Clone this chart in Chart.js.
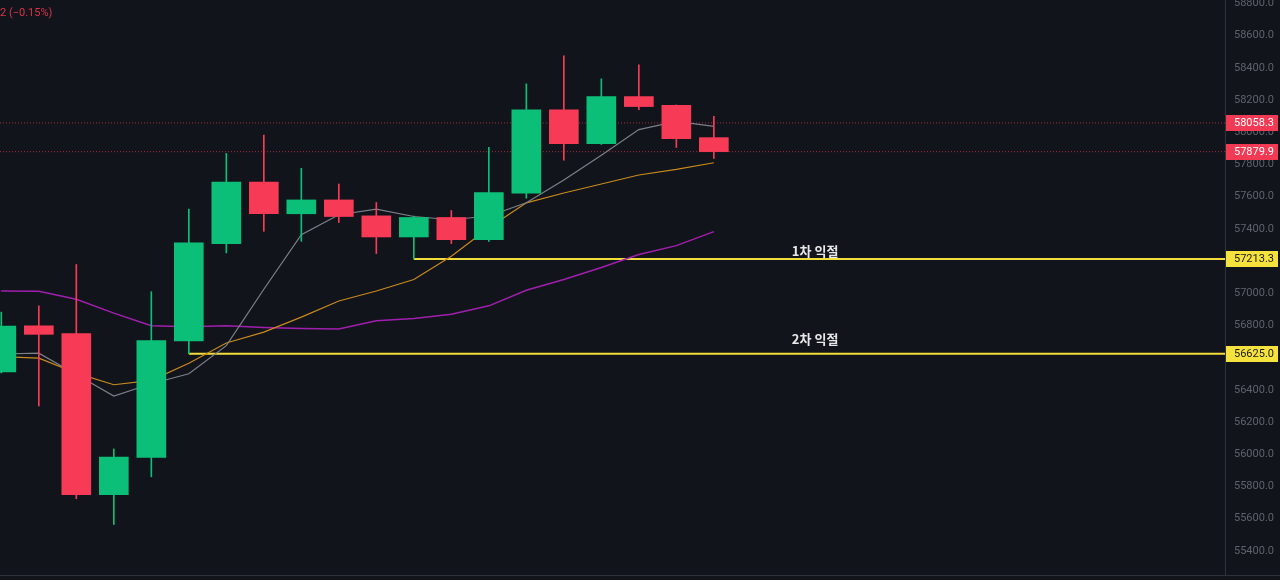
<!DOCTYPE html>
<html>
<head>
<meta charset="utf-8">
<script src="https://cdn.jsdelivr.net/npm/chart.js@4/dist/chart.umd.min.js"></script>
<style>
  html, body { margin: 0; padding: 0; background: #12141b; }
  #wrap { width: 1280px; height: 580px; position: relative; }
</style>
</head>
<body>
<div id="wrap"><canvas id="c" width="1280" height="580"></canvas></div>
<script>
// ---- data ----
const opens  = [56512, 56798, 56749, 55749, 55980, 56704, 57309, 57691, 57494, 57580, 57481, 57350, 57471, 57333, 57622, 58140, 57930, 58222, 58167, 57967];
const closes = [56796, 56745, 55749, 55983, 56706, 57313, 57691, 57494, 57580, 57477, 57350, 57471, 57333, 57625, 58140, 57930, 58222, 58160, 57961, 57880];
const highs  = [56883, 56922, 57179, 56033, 57010, 57523, 57869, 57983, 57776, 57679, 57564, 57480, 57514, 57906, 58301, 58475, 58332, 58420, 58170, 58099];
const lows   = [56505, 56300, 55724, 55564, 55860, 56625, 57251, 57385, 57323, 57440, 57247, 57213, 57309, 57323, 57591, 57827, 57925, 58140, 57906, 57838];
const maFast = [56623, 56628, 56496, 56362, 56438, 56500, 56675, 57025, 57364, 57488, 57523, 57477, 57457, 57480, 57562, 57704, 57858, 58017, 58068, 58037];
const maMid  = [56607, 56597, 56504, 56432, 56459, 56565, 56691, 56759, 56852, 56952, 57014, 57086, 57230, 57407, 57562, 57623, 57679, 57735, 57770, 57811];
const maSlow = [57014, 57012, 56963, 56877, 56798, 56792, 56798, 56788, 56782, 56778, 56829, 56844, 56870, 56922, 57019, 57086, 57160, 57241, 57296, 57383];
const yTicks = [55400, 55600, 55800, 56000, 56200, 56400, 56600, 56800, 57000, 57200, 57400, 57600, 57800, 58000, 58200, 58400, 58600, 58800];
const redLevels = [58058.3, 57879.9];
const targetLevels = [57213.3, 56625.0];
const targetStart = [11, 5];
const targetNames = ['1차 익절', '2차 익절'];
const headerText = '2 (−0.15%)';

const X_MIN = -0.035, X_MAX = 32.63;
const Y_MIN = 55250, Y_MAX = 58822;
const UP = '#0cbf78', DOWN = '#f73b57';

const idx = opens.map((_, i) => i);
const candleColor = i => closes[i] >= opens[i] ? UP : DOWN;

const datasets = [];
datasets.push({
  type: 'bar', label: 'body', order: 0, grouped: false,
  data: idx.map(i => ({ x: i, y: [opens[i], closes[i]] })),
  backgroundColor: idx.map(candleColor), borderWidth: 0, barThickness: 29
});
datasets.push({
  type: 'bar', label: 'wick', order: 1, grouped: false,
  data: idx.map(i => ({ x: i, y: [lows[i], highs[i]] })),
  backgroundColor: idx.map(candleColor), borderWidth: 0, barThickness: 1
});
const lineDs = (label, arr, color, w, order) => ({
  type: 'line', label, order, data: arr.map((v, i) => ({ x: i, y: v })),
  borderColor: color, borderWidth: w, pointRadius: 0, tension: 0, fill: false
});
datasets.push(lineDs('ma1', maFast, '#7d8089', 1.2, 2));
datasets.push(lineDs('ma2', maMid, '#c88a1e', 1.2, 2));
datasets.push(lineDs('ma3', maSlow, '#a11fae', 1.5, 2));
redLevels.forEach((v, k) => datasets.push({
  type: 'line', label: 'red' + k, order: 3,
  data: [{ x: X_MIN, y: v }, { x: X_MAX, y: v }],
  borderColor: 'rgba(242,54,69,0.65)', borderWidth: 1, borderDash: [1, 2], pointRadius: 0
}));
targetLevels.forEach((v, k) => datasets.push({
  type: 'line', label: 'tgt' + k, order: 2,
  data: [{ x: targetStart[k], y: v }, { x: X_MAX, y: v }],
  borderColor: '#f2dd3a', borderWidth: 2, pointRadius: 0
}));

const overlay = {
  id: 'overlay',
  beforeDraw(chart) {
    const ctx = chart.ctx;
    ctx.save();
    ctx.fillStyle = '#12141b';
    ctx.fillRect(0, 0, chart.width, chart.height);
    ctx.restore();
  },
  afterDraw(chart) {
    const ctx = chart.ctx, ys = chart.scales.y, xs = chart.scales.x;
    const area = chart.chartArea;
    ctx.save();
    // bottom border
    ctx.strokeStyle = '#2e323c';
    ctx.lineWidth = 1;
    ctx.beginPath(); ctx.moveTo(0, area.bottom + 0.5); ctx.lineTo(chart.width, area.bottom + 0.5); ctx.stroke();
    // target texts
    ctx.font = 'bold 13px "Noto Sans CJK KR", "Noto Sans", sans-serif';
    ctx.fillStyle = '#e8e8ea';
    ctx.textAlign = 'center'; ctx.textBaseline = 'middle';
    const offs = [-8, -15];
    targetLevels.forEach((v, k) => {
      ctx.fillText(targetNames[k], xs.getPixelForValue(21.7), ys.getPixelForValue(v) + offs[k]);
    });
    // axis price boxes
    const boxes = [
      [redLevels[0], '#f23a55', '#ffffff'],
      [redLevels[1], '#f23a55', '#ffffff'],
      [targetLevels[0], '#f5e23c', '#1a1a1a'],
      [targetLevels[1], '#f5e23c', '#1a1a1a']
    ];
    ctx.font = '11px Roboto, "DejaVu Sans", sans-serif';
    ctx.textAlign = 'left';
    boxes.forEach(([v, bg, fg]) => {
      const y = Math.round(ys.getPixelForValue(v));
      ctx.fillStyle = bg;
      ctx.fillRect(area.right + 1, y - 8, 52, 16);
      ctx.fillStyle = fg;
      ctx.fillText(v.toFixed(1), area.right + 9, y + 0.5);
    });
    // header
    ctx.font = '11px Roboto, "DejaVu Sans", sans-serif';
    ctx.fillStyle = '#d9344a';
    ctx.textAlign = 'left';
    ctx.fillText(headerText, 0, 13);
    ctx.restore();
  }
};

new Chart(document.getElementById('c'), {
  data: { datasets },
  options: {
    responsive: false, animation: false, events: [],
    layout: { padding: { left: 0, right: 0, top: 0, bottom: 5 } },
    plugins: { legend: { display: false }, tooltip: { enabled: false } },
    scales: {
      x: { type: 'linear', min: X_MIN, max: X_MAX, display: false, offset: false },
      y: {
        type: 'linear', position: 'right', min: Y_MIN, max: Y_MAX,
        grid: { display: false, drawTicks: false },
        border: { display: true, color: '#2e323c' },
        ticks: {
          color: '#5f626b', padding: 9, font: { size: 11, family: 'Roboto' },
          callback: v => Number(v).toFixed(1)
        },
        afterBuildTicks: s => { s.ticks = yTicks.map(v => ({ value: v })); },
        afterFit: s => { s.width = 55; s.paddingTop = 0; s.paddingBottom = 0; }
      }
    }
  },
  plugins: [overlay]
});
</script>
</body>
</html>
